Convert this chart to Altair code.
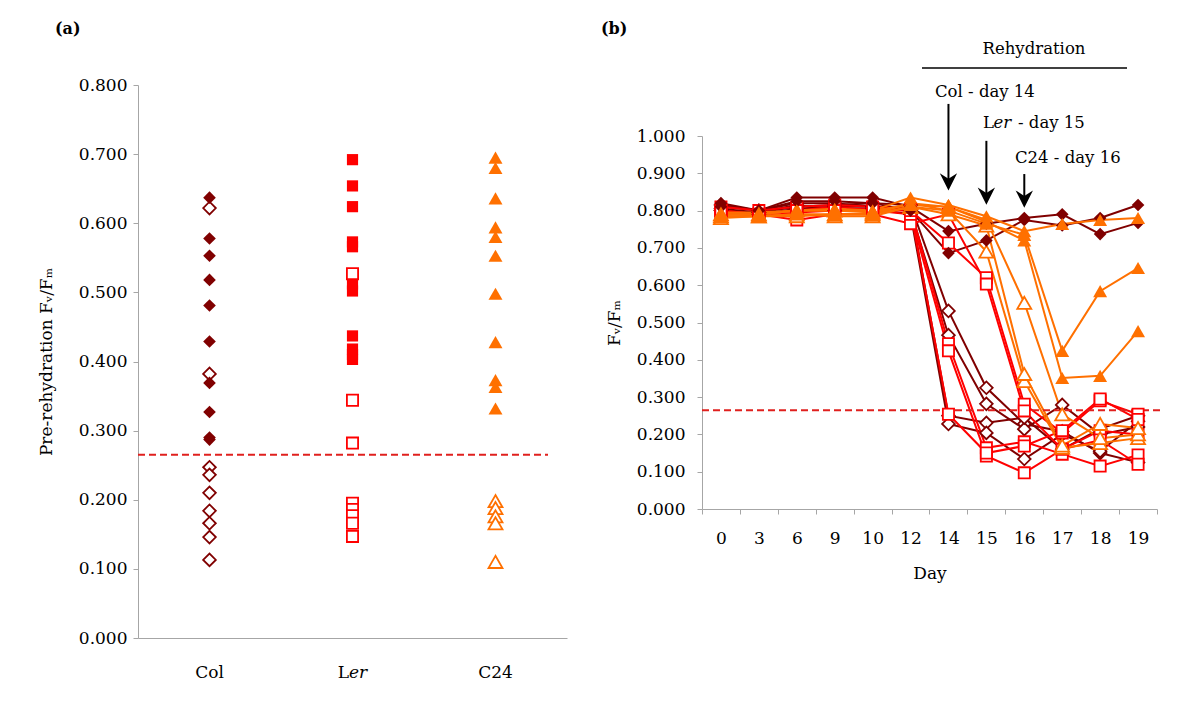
import altair as alt
import pandas as pd

FONT = "DejaVu Serif"
genos = ["Col", "Ler", "C24"]
geno_colors = ["#800000", "#FF0000", "#FF7000"]
geno_shapes = ["diamond", "square", "triangle-up"]

# ---------------- panel (a): pre-rehydration Fv/Fm ----------------
col_filled = [0.637, 0.578, 0.553, 0.518, 0.481, 0.429, 0.369, 0.327, 0.290, 0.287]
col_open = [0.622, 0.382, 0.247, 0.236, 0.210, 0.184, 0.166, 0.146, 0.113]
ler_filled = [0.692, 0.654, 0.624, 0.573, 0.566, 0.512, 0.502, 0.437, 0.418, 0.410, 0.403]
ler_open = [0.527, 0.344, 0.282, 0.195, 0.186, 0.177, 0.166, 0.147]
c24_filled = [0.695, 0.680, 0.636, 0.594, 0.580, 0.553, 0.498, 0.428, 0.373, 0.363, 0.332]
c24_open = [0.198, 0.188, 0.176, 0.166, 0.110]
threshold = 0.265

rows_a = []
for g, st, vals in [("Col", "filled", col_filled), ("Col", "open", col_open),
                    ("Ler", "filled", ler_filled), ("Ler", "open", ler_open),
                    ("C24", "filled", c24_filled), ("C24", "open", c24_open)]:
    for v in vals:
        rows_a.append({"geno": g, "status": st, "value": v})
dfa = pd.DataFrame(rows_a)

# ---------------- panel (b): time course ----------------
days = [0, 3, 6, 9, 10, 12, 14, 15, 16, 17, 18, 19]
col_f1 = [0.820, 0.800, 0.835, 0.835, 0.835, 0.810, 0.745, 0.765, 0.780, 0.790, 0.737, 0.767]
col_f2 = [0.810, 0.800, 0.825, 0.825, 0.820, 0.800, 0.686, 0.720, 0.775, 0.760, 0.780, 0.815]
col_o1 = [0.800, 0.795, 0.810, 0.815, 0.820, 0.815, 0.531, 0.325, 0.228, 0.208, 0.150, 0.125]
col_o2 = [0.815, 0.800, 0.820, 0.820, 0.810, 0.800, 0.466, 0.282, 0.214, 0.279, 0.200, 0.220]
col_o3 = [0.800, 0.790, 0.805, 0.810, 0.810, 0.805, 0.250, 0.231, 0.245, 0.160, 0.215, 0.250]
col_o4 = [0.805, 0.795, 0.815, 0.800, 0.805, 0.790, 0.228, 0.204, 0.134, 0.200, 0.155, 0.235]
ler_o1 = [0.800, 0.790, 0.800, 0.810, 0.800, 0.800, 0.713, 0.620, 0.281, 0.204, 0.290, 0.254]
ler_o2 = [0.790, 0.790, 0.775, 0.790, 0.790, 0.765, 0.790, 0.603, 0.263, 0.160, 0.210, 0.200]
ler_o3 = [0.810, 0.800, 0.810, 0.815, 0.810, 0.805, 0.443, 0.164, 0.180, 0.147, 0.115, 0.145]
ler_o4 = [0.795, 0.785, 0.795, 0.800, 0.800, 0.790, 0.424, 0.142, 0.097, 0.160, 0.185, 0.120]
ler_o5 = [0.800, 0.790, 0.800, 0.800, 0.805, 0.800, 0.254, 0.150, 0.169, 0.210, 0.295, 0.240]
c24_f1 = [0.790, 0.790, 0.800, 0.800, 0.800, 0.835, 0.815, 0.785, 0.745, 0.764, 0.775, 0.780]
c24_f2 = [0.785, 0.785, 0.790, 0.790, 0.790, 0.820, 0.800, 0.765, 0.735, 0.424, 0.584, 0.646]
c24_f3 = [0.795, 0.795, 0.800, 0.805, 0.800, 0.815, 0.810, 0.770, 0.720, 0.351, 0.357, 0.477]
c24_o1 = [0.780, 0.785, 0.790, 0.785, 0.785, 0.810, 0.800, 0.690, 0.343, 0.164, 0.177, 0.190]
c24_o2 = [0.790, 0.790, 0.800, 0.800, 0.795, 0.820, 0.810, 0.775, 0.553, 0.254, 0.190, 0.200]
c24_o3 = [0.785, 0.785, 0.785, 0.790, 0.790, 0.810, 0.790, 0.760, 0.362, 0.170, 0.228, 0.217]

series_b = [("Col", "filled", "col_f1", col_f1), ("Col", "filled", "col_f2", col_f2),
            ("Col", "open", "col_o1", col_o1), ("Col", "open", "col_o2", col_o2),
            ("Col", "open", "col_o3", col_o3), ("Col", "open", "col_o4", col_o4),
            ("Ler", "open", "ler_o1", ler_o1), ("Ler", "open", "ler_o2", ler_o2),
            ("Ler", "open", "ler_o3", ler_o3), ("Ler", "open", "ler_o4", ler_o4),
            ("Ler", "open", "ler_o5", ler_o5),
            ("C24", "filled", "c24_f1", c24_f1), ("C24", "filled", "c24_f2", c24_f2),
            ("C24", "filled", "c24_f3", c24_f3), ("C24", "open", "c24_o1", c24_o1),
            ("C24", "open", "c24_o2", c24_o2), ("C24", "open", "c24_o3", c24_o3)]
rows_b = []
for g, st, name, vals in series_b:
    for d, v in zip(days, vals):
        rows_b.append({"geno": g, "status": st, "plant": name, "day": d, "value": v})
dfb = pd.DataFrame(rows_b)

rehyd_days = [14, 15, 16]
arrow_top = [1.086, 0.987, 0.898]
arrow_head = [0.877, 0.839, 0.831]

# ---------------- shared encodings ----------------
color_enc = alt.Color("geno:N", scale=alt.Scale(domain=genos, range=geno_colors), legend=None)
shape_enc = alt.Shape("geno:N", scale=alt.Scale(domain=genos, range=geno_shapes), legend=None)
size_expr = "datum.geno == 'Col' ? 160 : (datum.geno == 'Ler' ? 125 : 195)"

RED_DASH = "#E0201E"
AXIS_GREY = "#A6A6A6"
FS = 17

# ---------------- panel (a) chart ----------------
WA, HA = 429, 553
xa = alt.X("geno:N", sort=genos, bandPosition=0.5,
           scale=alt.Scale(type="band", domain=genos, paddingInner=0, paddingOuter=0),
           axis=alt.Axis(labels=False, ticks=False, title=None, domainColor=AXIS_GREY))
ya = alt.Y("value:Q", scale=alt.Scale(domain=[0, 0.8], nice=False),
           axis=alt.Axis(values=[i / 10 for i in range(9)], format=".3f",
                         title="Pre-rehydration Fᵥ/Fₘ", tickSize=5, labelPadding=6,
                         titlePadding=23))
base_a = alt.Chart(dfa).transform_calculate(sz=size_expr)
pts_a_open = base_a.transform_filter("datum.status == 'open'").mark_point(
    filled=False, fill="white", opacity=1, strokeWidth=1.8).encode(
    x=xa, y=ya, color=color_enc, shape=shape_enc, size=alt.Size("sz:Q", scale=None))
pts_a_fill = base_a.transform_filter("datum.status == 'filled'").mark_point(
    filled=True, opacity=1).encode(
    x=xa, y="value:Q", color=color_enc, shape=shape_enc, size=alt.Size("sz:Q", scale=None))
thr_a = alt.Chart(pd.DataFrame({"value": [threshold]})).mark_rule(
    color=RED_DASH, strokeDash=[7, 4], strokeWidth=2).encode(
    y="value:Q", x=alt.value(0), x2=alt.value(410))

lab_df = pd.DataFrame({"geno": genos})
lab_plain = alt.Chart(lab_df).transform_filter("datum.geno != 'Ler'").mark_text(
    font=FONT, fontSize=FS, baseline="middle", align="center", color="black").encode(
    x=alt.X("geno:N", bandPosition=0.5), y=alt.value(HA + 35), text="geno:N")
lab_L = alt.Chart(lab_df).transform_filter("datum.geno == 'Ler'").mark_text(
    font=FONT, fontSize=FS, baseline="middle", align="right", dx=-3.5, color="black").encode(
    x=alt.X("geno:N", bandPosition=0.5), y=alt.value(HA + 35), text=alt.value("L"))
lab_er = alt.Chart(lab_df).transform_filter("datum.geno == 'Ler'").mark_text(
    font=FONT, fontSize=FS, baseline="middle", align="left", dx=-3.5, fontStyle="italic",
    color="black").encode(
    x=alt.X("geno:N", bandPosition=0.5), y=alt.value(HA + 35), text=alt.value("er"))
tag_a = alt.Chart(pd.DataFrame({"t": ["(a)"]})).mark_text(
    font=FONT, fontSize=16, fontWeight="bold", align="left", baseline="middle",
    color="black").encode(x=alt.value(-83), y=alt.value(-56), text="t:N")

panel_a = alt.layer(thr_a, pts_a_open, pts_a_fill, lab_plain, lab_L, lab_er, tag_a).properties(
    width=WA, height=HA)

# ---------------- panel (b) chart ----------------
# the view starts at the same top as panel (a); the y range leaves room above 1.000
WB, HB = 455, 424
B_TOP = 51
xb = alt.X("day:O", bandPosition=0.5,
           scale=alt.Scale(type="band", paddingInner=0, paddingOuter=0),
           axis=alt.Axis(title="Day", labelAngle=0, tickBand="extent", tickSize=5,
                         labelPadding=16, titlePadding=19))
yb = alt.Y("value:Q", scale=alt.Scale(domain=[0, 1], nice=False, range=[HB, B_TOP]),
           axis=alt.Axis(values=[i / 10 for i in range(11)], format=".3f",
                         title="Fᵥ/Fₘ", tickSize=5, labelPadding=12, titlePadding=13))
base_b = alt.Chart(dfb).transform_calculate(sz=size_expr)
lines_b = base_b.mark_line(strokeWidth=2).encode(
    x=xb, y=yb, color=color_enc, detail="plant:N")
pts_b_open = base_b.transform_filter("datum.status == 'open'").mark_point(
    filled=False, fill="white", opacity=1, strokeWidth=1.8).encode(
    x=alt.X("day:O", bandPosition=0.5), y="value:Q", color=color_enc, shape=shape_enc,
    size=alt.Size("sz:Q", scale=None))
pts_b_fill = base_b.transform_filter("datum.status == 'filled'").mark_point(
    filled=True, opacity=1).encode(
    x=alt.X("day:O", bandPosition=0.5), y="value:Q", color=color_enc, shape=shape_enc,
    size=alt.Size("sz:Q", scale=None))
thr_b = alt.Chart(pd.DataFrame({"value": [threshold]})).mark_rule(
    color=RED_DASH, strokeDash=[7, 4], strokeWidth=2).encode(
    y="value:Q", x=alt.value(0), x2=alt.value(WB + 3))

arrows_df = pd.DataFrame({"day": rehyd_days, "value": arrow_top, "value2": arrow_head})
shafts = alt.Chart(arrows_df).mark_rule(color="black", strokeWidth=2).encode(
    x=alt.X("day:O", bandPosition=0.5), y="value:Q", y2="value2:Q")
heads = alt.Chart(arrows_df).mark_point(
    shape="M-1,-1L0,1L1,-1L0,-0.35Z", filled=True, color="black", opacity=1, size=300).encode(
    x=alt.X("day:O", bandPosition=0.5), y=alt.Y("value2:Q"))

rehyd_line = alt.Chart(pd.DataFrame({"value": [1.182]})).mark_rule(
    color="black", strokeWidth=1.5).encode(y="value:Q", x=alt.value(220), x2=alt.value(425))
txt_style = dict(font=FONT, fontSize=16.5, baseline="middle", color="black")
rehyd_txt = alt.Chart(pd.DataFrame({"value": [1.233], "t": ["Rehydration"]})).mark_text(
    align="center", **txt_style).encode(x=alt.value(332), y="value:Q", text="t:N")
col_txt = alt.Chart(pd.DataFrame({"value": [1.118], "t": ["Col - day 14"]})).mark_text(
    align="left", **txt_style).encode(x=alt.value(233), y="value:Q", text="t:N")
ler_L = alt.Chart(pd.DataFrame({"value": [1.035], "t": ["L"]})).mark_text(
    align="left", **txt_style).encode(x=alt.value(281), y="value:Q", text="t:N")
ler_er = alt.Chart(pd.DataFrame({"value": [1.035], "t": ["er"]})).mark_text(
    align="left", fontStyle="italic", **txt_style).encode(x=alt.value(291.5), y="value:Q", text="t:N")
ler_rest = alt.Chart(pd.DataFrame({"value": [1.035], "t": ["- day 15"]})).mark_text(
    align="left", **txt_style).encode(x=alt.value(316), y="value:Q", text="t:N")
c24_txt = alt.Chart(pd.DataFrame({"value": [0.941], "t": ["C24 - day 16"]})).mark_text(
    align="left", **txt_style).encode(x=alt.value(313), y="value:Q", text="t:N")
tag_b = alt.Chart(pd.DataFrame({"t": ["(b)"]})).mark_text(
    font=FONT, fontSize=16, fontWeight="bold", align="left", baseline="middle",
    color="black").encode(x=alt.value(-101), y=alt.value(-56), text="t:N")

panel_b = alt.layer(lines_b, thr_b, pts_b_open, pts_b_fill, shafts, heads, rehyd_line,
                    rehyd_txt, col_txt, ler_L, ler_er, ler_rest, c24_txt, tag_b).properties(
    width=WB, height=HB)

chart = alt.hconcat(panel_a, panel_b, spacing=34).properties(
    padding={"left": 29, "top": 13, "right": 5, "bottom": 5}
).configure_view(stroke=None).configure_axis(
    grid=False, domainColor=AXIS_GREY, tickColor=AXIS_GREY, domainWidth=1,
    labelFont=FONT, labelFontSize=FS, labelColor="black",
    titleFont=FONT, titleFontSize=FS, titleFontWeight="normal", titleColor="black")

chart.save("out.html", embed_options={"renderer": "svg", "actions": False})
